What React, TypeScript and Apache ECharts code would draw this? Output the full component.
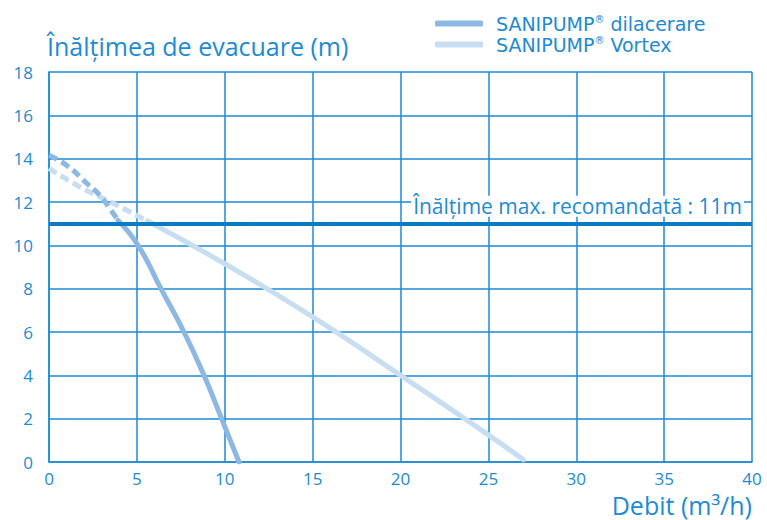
import React, { useEffect, useRef } from "react";
import * as echarts from "echarts";

const xTicks = [0, 5, 10, 15, 20, 25, 30, 35, 40];
const yTicks = [0, 2, 4, 6, 8, 10, 12, 14, 16, 18];
const dilacerareDashed: [number, number][] = [
  [0, 14.15], [1, 13.7], [2.1, 12.9], [2.9, 12.3], [3.5, 11.65], [3.93, 11.15],
];
const dilacerareSolid: [number, number][] = [
  [3.93, 11.15], [5.07, 10], [6.37, 8], [7.68, 6], [8.82, 4], [9.82, 2], [10.81, 0],
];
const vortexDashed: [number, number][] = [
  [0, 13.55], [1.75, 12.7], [3.5, 12.0], [5.6, 11.12],
];
const vortexSolid: [number, number][] = [
  [5.6, 11.12], [10, 9.15], [15, 6.7], [20, 4.0], [25, 1.25], [27, 0.1],
];
const maxHeight = 11;
const seriesNames = ["SANIPUMP{sup|®} dilacerare", "SANIPUMP{sup|®} Vortex"];

const BLUE = "#1d8bd4";
const DIL = "#8cb8e3";
const VOR = "#c6ddf2";
const FONT = "'Open Sans', 'Noto Sans', sans-serif";
const WIDE = "'DejaVu Sans', sans-serif";

export default function App() {
  const ref = useRef<HTMLDivElement>(null);
  useEffect(() => {
    if (!ref.current) return;
    const chart = echarts.init(ref.current, undefined, { renderer: "svg" });
    chart.setOption({
      animation: false,
      textStyle: { fontFamily: FONT },
      title: {
        text: "Înălțimea de evacuare (m)",
        left: 42,
        top: 28,
        textStyle: { color: BLUE, fontSize: 25, fontWeight: "normal", fontFamily: FONT },
      },
      legend: {
        data: seriesNames.map((n) => ({ name: n })),
        orient: "vertical",
        left: 430,
        top: 9,
        itemWidth: 48,
        itemHeight: 6,
        itemGap: 2,
        icon: "roundRect",
        textStyle: {
          color: BLUE,
          fontSize: 19,
          fontFamily: WIDE,
          padding: [0, 0, 0, 8],
          rich: {
            sup: { fontSize: 10, verticalAlign: "top", color: BLUE, fontFamily: WIDE, padding: [0, 0, 8, 0] },
          },
        },
      },
      grid: { left: 49, right: 15, top: 72, bottom: 58 },
      xAxis: {
        type: "value",
        min: xTicks[0],
        max: xTicks[xTicks.length - 1],
        interval: 5,
        name: "Debit (m³/h)",
        nameLocation: "end",
        nameGap: 0,
        nameTextStyle: {
          color: BLUE,
          fontSize: 25,
          fontFamily: FONT,
          align: "right",
          verticalAlign: "top",
          padding: [30, 0, 0, 0],
        },
        axisLine: { show: true, lineStyle: { color: BLUE, width: 1.5 } },
        axisTick: { show: false },
        axisLabel: { color: BLUE, fontSize: 17, margin: 8, fontFamily: FONT },
        splitLine: { show: true, lineStyle: { color: BLUE, width: 1.5 } },
      },
      yAxis: {
        type: "value",
        min: yTicks[0],
        max: yTicks[yTicks.length - 1],
        interval: 2,
        axisLine: { show: true, lineStyle: { color: BLUE, width: 1.5 } },
        axisTick: { show: false },
        axisLabel: { color: BLUE, fontSize: 17, margin: 16, fontFamily: FONT },
        splitLine: { show: true, lineStyle: { color: BLUE, width: 1.5 } },
      },
      series: [
        {
          name: "maxline",
          type: "line",
          data: [],
          markLine: {
            silent: true,
            symbol: ["none", "none"],
            lineStyle: { color: "#0a7cc4", width: 4, type: "solid" },
            label: {
              show: true,
              position: "insideEndTop",
              formatter: "Înălțime max. recomandată : 11m",
              color: BLUE,
              fontSize: 21,
              fontFamily: FONT,
              backgroundColor: "#fff",
              padding: [0, 2, 0, 2],
              distance: [8, 7],
            },
            data: [{ yAxis: maxHeight }],
          },
        },
        {
          name: "vd",
          type: "line",
          data: vortexDashed,
          smooth: true,
          showSymbol: false,
          lineStyle: { color: VOR, width: 5, type: [9, 5] },
          z: 3,
        },
        {
          name: seriesNames[1],
          type: "line",
          data: vortexSolid,
          smooth: true,
          showSymbol: false,
          color: VOR,
          lineStyle: { color: VOR, width: 5, cap: "round" },
          z: 3,
        },
        {
          name: "dd",
          type: "line",
          data: dilacerareDashed,
          smooth: true,
          showSymbol: false,
          lineStyle: { color: DIL, width: 5, type: [9, 5] },
          z: 4,
        },
        {
          name: seriesNames[0],
          type: "line",
          data: dilacerareSolid,
          smooth: true,
          showSymbol: false,
          color: DIL,
          lineStyle: { color: DIL, width: 5, cap: "round" },
          z: 4,
        },
      ],
    });
    return () => chart.dispose();
  }, []);
  return <div ref={ref} style={{ width: 767, height: 520, position: "absolute", left: 0, top: 0 }} />;
}
